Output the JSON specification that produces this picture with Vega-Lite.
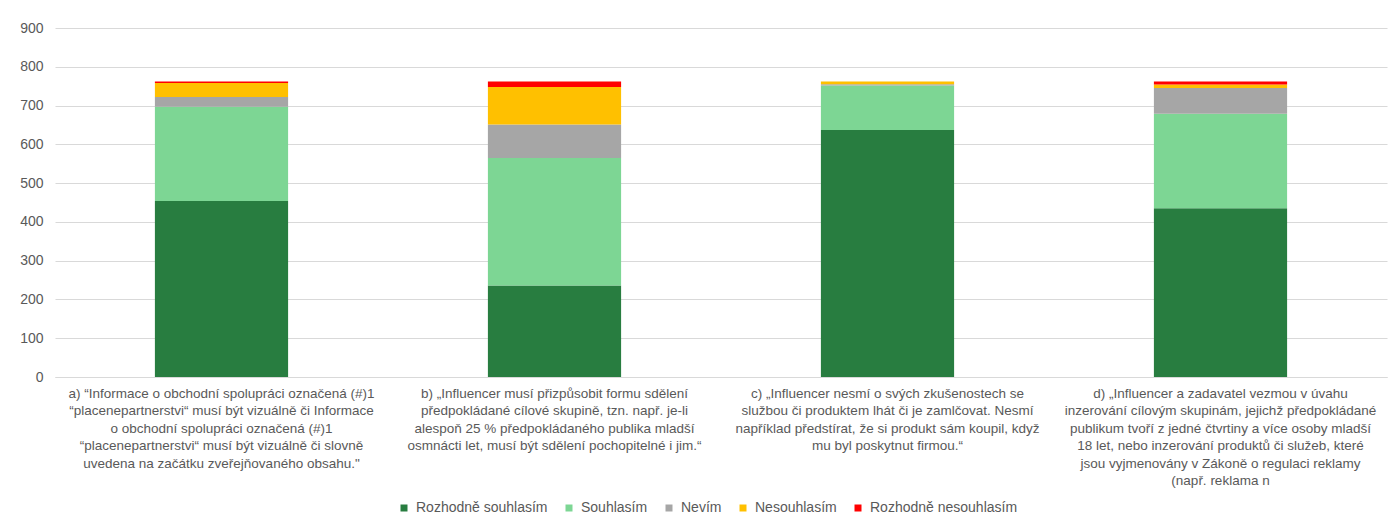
{
  "$schema": "https://vega.github.io/schema/vega-lite/v6.json",
  "width": 1332,
  "height": 349,
  "autosize": {"type": "none"},
  "padding": {"left": 55, "top": 28, "right": 8, "bottom": 148},
  "background": "white",
  "config": {
    "view": {"stroke": null},
    "font": "Liberation Sans",
    "axis": {"labelFont": "Liberation Sans", "labelColor": "#595959"},
    "legend": {"labelFont": "Liberation Sans", "labelColor": "#595959"}
  },
  "data": {
    "values": [
      {"q": "a) “Informace o obchodní spolupráci označená (#)1\n“placenepartnerstvi“ musí být vizuálně či Informace\no obchodní spolupráci označená (#)1\n“placenepartnerstvi“ musí být vizuálně či slovně\nuvedena na začátku zveřejňovaného obsahu.\"", "r": "Rozhodně souhlasím", "v": 454},
      {"q": "a) “Informace o obchodní spolupráci označená (#)1\n“placenepartnerstvi“ musí být vizuálně či Informace\no obchodní spolupráci označená (#)1\n“placenepartnerstvi“ musí být vizuálně či slovně\nuvedena na začátku zveřejňovaného obsahu.\"", "r": "Souhlasím", "v": 243},
      {"q": "a) “Informace o obchodní spolupráci označená (#)1\n“placenepartnerstvi“ musí být vizuálně či Informace\no obchodní spolupráci označená (#)1\n“placenepartnerstvi“ musí být vizuálně či slovně\nuvedena na začátku zveřejňovaného obsahu.\"", "r": "Nevím", "v": 25},
      {"q": "a) “Informace o obchodní spolupráci označená (#)1\n“placenepartnerstvi“ musí být vizuálně či Informace\no obchodní spolupráci označená (#)1\n“placenepartnerstvi“ musí být vizuálně či slovně\nuvedena na začátku zveřejňovaného obsahu.\"", "r": "Nesouhlasím", "v": 36},
      {"q": "a) “Informace o obchodní spolupráci označená (#)1\n“placenepartnerstvi“ musí být vizuálně či Informace\no obchodní spolupráci označená (#)1\n“placenepartnerstvi“ musí být vizuálně či slovně\nuvedena na začátku zveřejňovaného obsahu.\"", "r": "Rozhodně nesouhlasím", "v": 4},
      {"q": "b) „Influencer musí přizpůsobit formu sdělení\npředpokládané cílové skupině, tzn. např. je-li\nalespoň 25 % předpokládaného publika mladší\nosmnácti let, musí být sdělení pochopitelné i jim.“", "r": "Rozhodně souhlasím", "v": 236},
      {"q": "b) „Influencer musí přizpůsobit formu sdělení\npředpokládané cílové skupině, tzn. např. je-li\nalespoň 25 % předpokládaného publika mladší\nosmnácti let, musí být sdělení pochopitelné i jim.“", "r": "Souhlasím", "v": 329},
      {"q": "b) „Influencer musí přizpůsobit formu sdělení\npředpokládané cílové skupině, tzn. např. je-li\nalespoň 25 % předpokládaného publika mladší\nosmnácti let, musí být sdělení pochopitelné i jim.“", "r": "Nevím", "v": 86},
      {"q": "b) „Influencer musí přizpůsobit formu sdělení\npředpokládané cílové skupině, tzn. např. je-li\nalespoň 25 % předpokládaného publika mladší\nosmnácti let, musí být sdělení pochopitelné i jim.“", "r": "Nesouhlasím", "v": 97},
      {"q": "b) „Influencer musí přizpůsobit formu sdělení\npředpokládané cílové skupině, tzn. např. je-li\nalespoň 25 % předpokládaného publika mladší\nosmnácti let, musí být sdělení pochopitelné i jim.“", "r": "Rozhodně nesouhlasím", "v": 14},
      {"q": "c) „Influencer nesmí o svých zkušenostech se\nslužbou či produktem lhát či je zamlčovat. Nesmí\nnapříklad předstírat, že si produkt sám koupil, když\nmu byl poskytnut firmou.“", "r": "Rozhodně souhlasím", "v": 637},
      {"q": "c) „Influencer nesmí o svých zkušenostech se\nslužbou či produktem lhát či je zamlčovat. Nesmí\nnapříklad předstírat, že si produkt sám koupil, když\nmu byl poskytnut firmou.“", "r": "Souhlasím", "v": 115},
      {"q": "c) „Influencer nesmí o svých zkušenostech se\nslužbou či produktem lhát či je zamlčovat. Nesmí\nnapříklad předstírat, že si produkt sám koupil, když\nmu byl poskytnut firmou.“", "r": "Nevím", "v": 3},
      {"q": "c) „Influencer nesmí o svých zkušenostech se\nslužbou či produktem lhát či je zamlčovat. Nesmí\nnapříklad předstírat, že si produkt sám koupil, když\nmu byl poskytnut firmou.“", "r": "Nesouhlasím", "v": 7},
      {"q": "c) „Influencer nesmí o svých zkušenostech se\nslužbou či produktem lhát či je zamlčovat. Nesmí\nnapříklad předstírat, že si produkt sám koupil, když\nmu byl poskytnut firmou.“", "r": "Rozhodně nesouhlasím", "v": 0},
      {"q": "d) „Influencer a zadavatel vezmou v úvahu\ninzerování cílovým skupinám, jejichž předpokládané\npublikum tvoří z jedné čtvrtiny a více osoby mladší\n18 let, nebo inzerování produktů či služeb, které\njsou vyjmenovány v Zákoně o regulaci reklamy\n(např. reklama n", "r": "Rozhodně souhlasím", "v": 435},
      {"q": "d) „Influencer a zadavatel vezmou v úvahu\ninzerování cílovým skupinám, jejichž předpokládané\npublikum tvoří z jedné čtvrtiny a více osoby mladší\n18 let, nebo inzerování produktů či služeb, které\njsou vyjmenovány v Zákoně o regulaci reklamy\n(např. reklama n", "r": "Souhlasím", "v": 244},
      {"q": "d) „Influencer a zadavatel vezmou v úvahu\ninzerování cílovým skupinám, jejichž předpokládané\npublikum tvoří z jedné čtvrtiny a více osoby mladší\n18 let, nebo inzerování produktů či služeb, které\njsou vyjmenovány v Zákoně o regulaci reklamy\n(např. reklama n", "r": "Nevím", "v": 66},
      {"q": "d) „Influencer a zadavatel vezmou v úvahu\ninzerování cílovým skupinám, jejichž předpokládané\npublikum tvoří z jedné čtvrtiny a více osoby mladší\n18 let, nebo inzerování produktů či služeb, které\njsou vyjmenovány v Zákoně o regulaci reklamy\n(např. reklama n", "r": "Nesouhlasím", "v": 9},
      {"q": "d) „Influencer a zadavatel vezmou v úvahu\ninzerování cílovým skupinám, jejichž předpokládané\npublikum tvoří z jedné čtvrtiny a více osoby mladší\n18 let, nebo inzerování produktů či služeb, které\njsou vyjmenovány v Zákoně o regulaci reklamy\n(např. reklama n", "r": "Rozhodně nesouhlasím", "v": 8}
    ]
  },
  "transform": [
    {"calculate": "indexof(['Rozhodně souhlasím', 'Souhlasím', 'Nevím', 'Nesouhlasím', 'Rozhodně nesouhlasím'], datum.r)", "as": "stackOrder"}
  ],
  "mark": {"type": "bar"},
  "encoding": {
    "x": {
      "field": "q",
      "type": "nominal",
      "sort": null,
      "title": null,
      "scale": {"paddingInner": 0.6, "paddingOuter": 0.3},
      "axis": {
        "labelAngle": 0,
        "labelExpr": "split(datum.value, '\\n')",
        "labelFontSize": 13.5,
        "labelLineHeight": 17.5,
        "labelLimit": 400,
        "labelPadding": 9,
        "ticks": false,
        "domainColor": "#D9D9D9",
        "labelBaseline": "top"
      }
    },
    "y": {
      "field": "v",
      "type": "quantitative",
      "stack": "zero",
      "title": null,
      "scale": {"domain": [0, 900], "nice": false},
      "axis": {
        "values": [0, 100, 200, 300, 400, 500, 600, 700, 800, 900],
        "labelFontSize": 14,
        "labelPadding": 12,
        "ticks": false,
        "domain": false,
        "gridColor": "#D9D9D9",
        "gridWidth": 1
      }
    },
    "order": {"field": "stackOrder", "type": "quantitative", "sort": "ascending"},
    "color": {
      "field": "r",
      "type": "nominal",
      "sort": ["Rozhodně souhlasím", "Souhlasím", "Nevím", "Nesouhlasím", "Rozhodně nesouhlasím"],
      "scale": {
        "domain": ["Rozhodně souhlasím", "Souhlasím", "Nevím", "Nesouhlasím", "Rozhodně nesouhlasím"],
        "range": ["#287D40", "#7DD694", "#A6A6A6", "#FFC000", "#FF0000"]
      },
      "legend": {
        "title": null,
        "orient": "none",
        "direction": "horizontal",
        "legendX": 342,
        "legendY": 473,
        "symbolType": "square",
        "symbolSize": 49,
        "symbolStrokeWidth": 0,
        "labelFontSize": 14,
        "labelOffset": 5,
        "columnPadding": 14
      }
    }
  }
}
